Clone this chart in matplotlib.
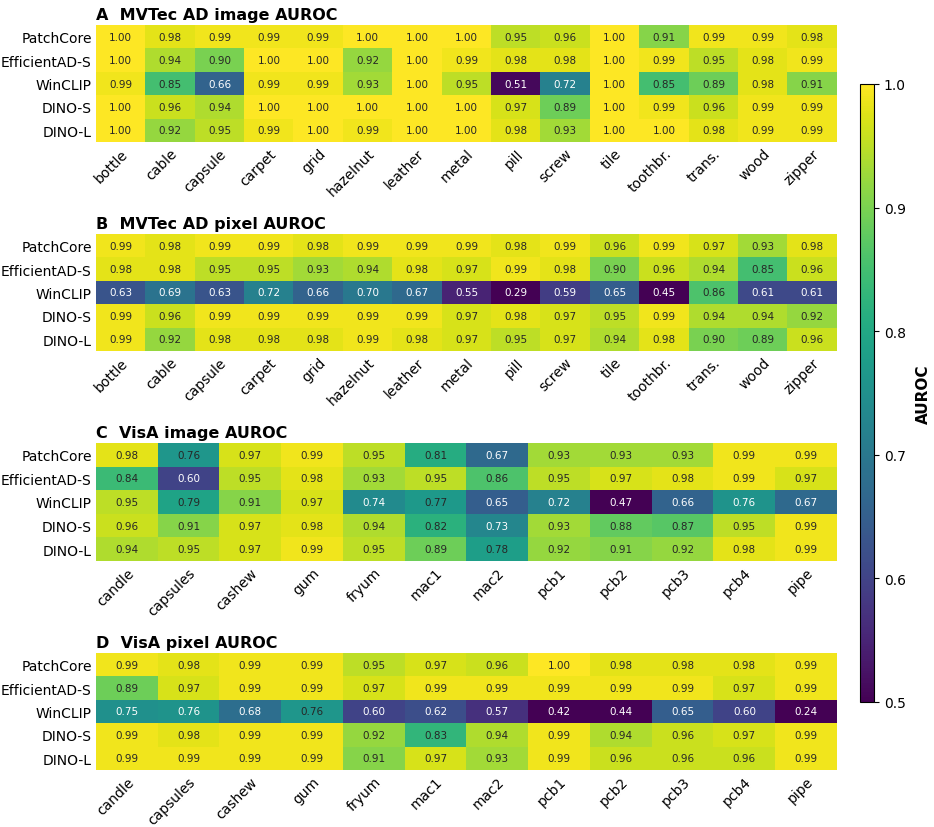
import numpy as np
import matplotlib
matplotlib.use("Agg")
import matplotlib.pyplot as plt

models = ["PatchCore", "EfficientAD-S", "WinCLIP", "DINO-S", "DINO-L"]

mvtec_classes = ["bottle", "cable", "capsule", "carpet", "grid", "hazelnut", "leather",
                 "metal", "pill", "screw", "tile", "toothbr.", "trans.", "wood", "zipper"]
visa_classes = ["candle", "capsules", "cashew", "gum", "fryum", "mac1", "mac2",
                "pcb1", "pcb2", "pcb3", "pcb4", "pipe"]

mvtec_image = [
    [1.00, 0.98, 0.99, 0.99, 0.99, 1.00, 1.00, 1.00, 0.95, 0.96, 1.00, 0.91, 0.99, 0.99, 0.98],
    [1.00, 0.94, 0.90, 1.00, 1.00, 0.92, 1.00, 0.99, 0.98, 0.98, 1.00, 0.99, 0.95, 0.98, 0.99],
    [0.99, 0.85, 0.66, 0.99, 0.99, 0.93, 1.00, 0.95, 0.51, 0.72, 1.00, 0.85, 0.89, 0.98, 0.91],
    [1.00, 0.96, 0.94, 1.00, 1.00, 1.00, 1.00, 1.00, 0.97, 0.89, 1.00, 0.99, 0.96, 0.99, 0.99],
    [1.00, 0.92, 0.95, 0.99, 1.00, 0.99, 1.00, 1.00, 0.98, 0.93, 1.00, 1.00, 0.98, 0.99, 0.99],
]
mvtec_pixel = [
    [0.99, 0.98, 0.99, 0.99, 0.98, 0.99, 0.99, 0.99, 0.98, 0.99, 0.96, 0.99, 0.97, 0.93, 0.98],
    [0.98, 0.98, 0.95, 0.95, 0.93, 0.94, 0.98, 0.97, 0.99, 0.98, 0.90, 0.96, 0.94, 0.85, 0.96],
    [0.63, 0.69, 0.63, 0.72, 0.66, 0.70, 0.67, 0.55, 0.29, 0.59, 0.65, 0.45, 0.86, 0.61, 0.61],
    [0.99, 0.96, 0.99, 0.99, 0.99, 0.99, 0.99, 0.97, 0.98, 0.97, 0.95, 0.99, 0.94, 0.94, 0.92],
    [0.99, 0.92, 0.98, 0.98, 0.98, 0.99, 0.98, 0.97, 0.95, 0.97, 0.94, 0.98, 0.90, 0.89, 0.96],
]
visa_image = [
    [0.98, 0.763, 0.97, 0.99, 0.95, 0.81, 0.67, 0.93, 0.93, 0.93, 0.99, 0.99],
    [0.84, 0.60, 0.95, 0.98, 0.93, 0.95, 0.86, 0.95, 0.97, 0.98, 0.99, 0.97],
    [0.95, 0.79, 0.91, 0.97, 0.74, 0.77, 0.65, 0.72, 0.47, 0.66, 0.757, 0.67],
    [0.96, 0.91, 0.97, 0.98, 0.94, 0.82, 0.73, 0.93, 0.88, 0.87, 0.95, 0.99],
    [0.94, 0.95, 0.97, 0.99, 0.95, 0.89, 0.78, 0.92, 0.91, 0.92, 0.98, 0.99],
]
visa_pixel = [
    [0.99, 0.98, 0.99, 0.99, 0.95, 0.97, 0.96, 1.00, 0.98, 0.98, 0.98, 0.99],
    [0.89, 0.97, 0.99, 0.99, 0.97, 0.99, 0.99, 0.99, 0.99, 0.99, 0.97, 0.99],
    [0.75, 0.757, 0.68, 0.763, 0.60, 0.62, 0.57, 0.42, 0.44, 0.65, 0.60, 0.24],
    [0.99, 0.98, 0.99, 0.99, 0.92, 0.83, 0.94, 0.99, 0.94, 0.96, 0.97, 0.99],
    [0.99, 0.99, 0.99, 0.99, 0.91, 0.97, 0.93, 0.99, 0.96, 0.96, 0.96, 0.99],
]

panels = [
    ("A  MVTec AD image AUROC", mvtec_image, mvtec_classes),
    ("B  MVTec AD pixel AUROC", mvtec_pixel, mvtec_classes),
    ("C  VisA image AUROC", visa_image, visa_classes),
    ("D  VisA pixel AUROC", visa_pixel, visa_classes),
]

W, H = 934, 828
fig = plt.figure(figsize=(W / 100, H / 100), dpi=100)

# pixel boxes (left, top, right, bottom) of each heatmap
boxes = [(96, 26, 837, 143), (96, 235, 837, 352), (96, 444, 837, 562), (96, 654, 837, 771)]

def px_rect(l, t, r, b):
    return [l / W, 1 - b / H, (r - l) / W, (b - t) / H]

im = None
for (title, vals, cols), box in zip(panels, boxes):
    ax = fig.add_axes(px_rect(*box))
    data = np.array(vals)
    im = ax.imshow(data, cmap="viridis", vmin=0.5, vmax=1.0, aspect="auto",
                   interpolation="nearest")
    for i in range(data.shape[0]):
        for j in range(data.shape[1]):
            v = data[i, j]
            ax.text(j, i, f"{v:.2f}", ha="center", va="center", fontsize=7.5,
                    color="white" if v < 0.76 else "#262626")
    ax.set_xticks(range(len(cols)))
    ax.set_xticklabels(cols, rotation=45, ha="right", rotation_mode="anchor", fontsize=10)
    ax.set_yticks(range(len(models)))
    ax.set_yticklabels(models, fontsize=10)
    ax.tick_params(length=0, pad=3)
    for s in ax.spines.values():
        s.set_visible(False)
    ax.set_title(title, loc="left", fontweight="bold", fontsize=11.5, pad=4)

cax = fig.add_axes(px_rect(860, 85, 874, 703))
cb = fig.colorbar(im, cax=cax, ticks=[0.5, 0.6, 0.7, 0.8, 0.9, 1.0])
cb.ax.tick_params(labelsize=10)
cb.set_label("AUROC", fontweight="bold", fontsize=11, labelpad=7)

fig.savefig("out.png", dpi=100)
